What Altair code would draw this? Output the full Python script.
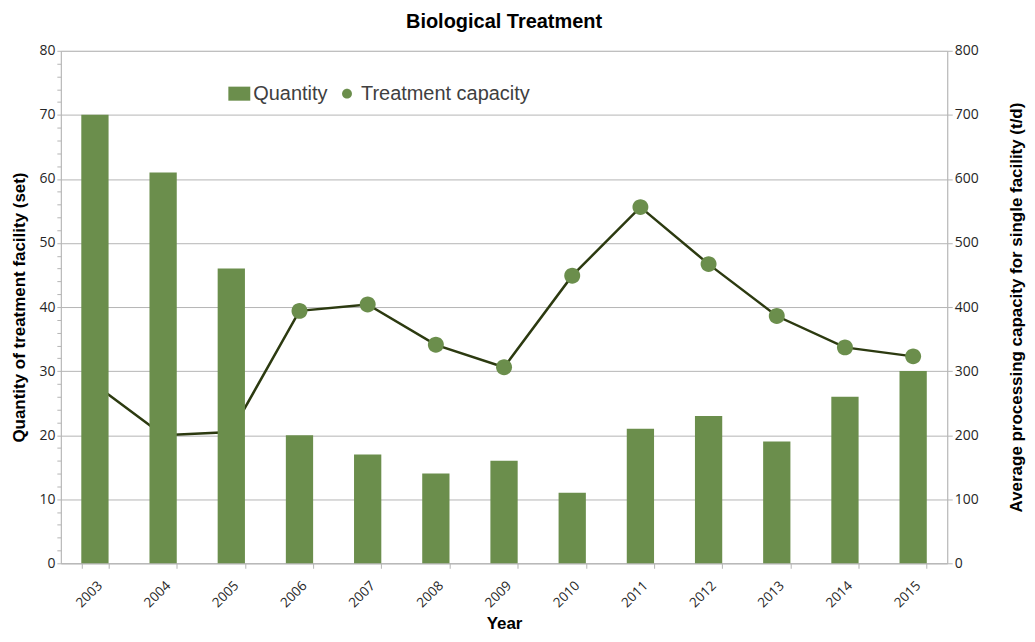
import altair as alt
import pandas as pd

years = ["2003", "2004", "2005", "2006", "2007", "2008", "2009",
         "2010", "2011", "2012", "2013", "2014", "2015"]
quantity = [70, 61, 46, 20, 17, 14, 16, 11, 21, 23, 19, 26, 30]
capacity = [279, 200, 205, 394, 404, 341, 306, 449, 556, 467, 386, 337, 323]
series_names = ["Quantity", "Treatment capacity"]

GREEN = "#6B8E4C"
DARK = "#2C3A10"
GRID = "#b5b5b5"

df_bar = pd.DataFrame({"year": years, "quantity": quantity, "series": series_names[0]})
df_line = pd.DataFrame({"year": years, "capacity": capacity, "series": series_names[1]})

x_enc = alt.X(
    "year:N", sort=years,
    scale=alt.Scale(paddingInner=0.6, paddingOuter=0.3),
    axis=alt.Axis(
        title="Year", titleFont="Liberation Sans", titleFontSize=17, titleFontWeight="bold",
        titleColor="#000000", titlePadding=6,
        labelAngle=-45, labelAlign="right", labelBaseline="top", labelPadding=10,
        labelFont="Open Sans", labelFontSize=13.5, labelColor="#262626",
        tickBand="extent", tickSize=5, tickColor=GRID, domainColor=GRID, grid=False,
    ),
)

color_scale = alt.Scale(domain=series_names, range=[GREEN, GREEN])
shape_scale = alt.Scale(domain=series_names,
                        range=["M-1,-0.64H1V0.64H-1Z",
                               "M0.45,0A0.45,0.45 0 1,1 -0.45,0A0.45,0.45 0 1,1 0.45,0Z"])

legend = alt.Legend(
    title=None, orient="none", direction="horizontal", legendX=168, legendY=32,
    symbolSize=484, labelFont="Liberation Sans", labelFontSize=20, labelColor="#404040",
    columnPadding=8, labelOffset=3, symbolStrokeWidth=0, labelLimit=400,
)

y_right = alt.Y(
    "capacity:Q",
    scale=alt.Scale(domain=[0, 800]),
    axis=alt.Axis(
        orient="right", values=list(range(0, 801, 100)), grid=True, gridColor=GRID,
        title="Average processing capacity for single facility (t/d)",
        titleFont="Liberation Sans", titleFontSize=17, titleFontWeight="bold",
        titleColor="#000000", titleAngle=270, titleBaseline="top", titlePadding=30,
        labelFont="Open Sans", labelFontSize=14, labelColor="#262626",
        tickSize=5, tickColor=GRID, domainColor=GRID,
    ),
)

line = alt.Chart(df_line).mark_line(color=DARK, strokeWidth=2.5).encode(
    x=x_enc, y=y_right,
)
points = alt.Chart(df_line).mark_point(filled=True, opacity=1, size=1264).encode(
    x=x_enc, y=y_right,
    color=alt.Color("series:N", scale=color_scale, legend=legend),
    shape=alt.Shape("series:N", scale=shape_scale, legend=legend),
)
right = alt.layer(line, points)

bars = alt.Chart(df_bar).mark_bar(color=GREEN).encode(
    x=x_enc,
    y=alt.Y(
        "quantity:Q",
        scale=alt.Scale(domain=[0, 80]),
        axis=alt.Axis(
            orient="left", values=list(range(0, 81, 2)),
            labelExpr="datum.value % 10 == 0 ? datum.label : ''",
            grid=False,
            title="Quantity of treatment facility (set)",
            titleFont="Liberation Sans", titleFontSize=17, titleFontWeight="bold",
            titleColor="#000000", titlePadding=10,
            labelFont="Open Sans", labelFontSize=14, labelColor="#262626",
            tickSize=4, tickColor=GRID, domainColor=GRID,
        ),
    ),
    color=alt.Color("series:N", scale=color_scale, legend=legend),
)

chart = alt.layer(right, bars).resolve_scale(y="independent").properties(
    width=889, height=514,
    title=alt.TitleParams("Biological Treatment", font="Liberation Sans", fontSize=20,
                          fontWeight="bold", color="#000000", offset=12),
    padding={"left": 2, "top": 3, "right": 2, "bottom": 0},
).configure_view(stroke=None).configure(background="white")

chart.save("out.html", embed_options={"renderer": "svg", "actions": False})
